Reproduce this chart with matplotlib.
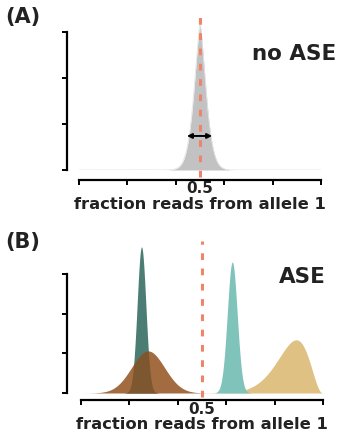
import numpy as np
import matplotlib
matplotlib.use('Agg')
import matplotlib.pyplot as plt

plt.rcParams['font.family'] = 'DejaVu Sans'
plt.rcParams['font.weight'] = 'bold'

# panel A: one narrow peak at 0.5 (center, width, exponent, height)
a_center = 0.5
a_width = 0.035
a_power = 1.48
a_height = 3.17
a_arrow = [0.446, 0.55, 0.74]   # x from, x to, y

# panel B: gaussian peaks (center, sd, height)
b_names = ['green', 'brown', 'teal']
b_centers = [0.25, 0.277, 0.625]
b_sds = [0.018, 0.068, 0.0205]
b_heights = [3.68, 1.06, 3.30]
b_colors = ['#4b7d74', '#a36b40', '#80c3bb']
overlap_color = '#7c5730'
# skewed peak (beta shape params, height)
tan_ab = [21, 3.5]
tan_height = 1.34
tan_color = '#dfc183'

xticks = [0, 0.2, 0.4, 0.6, 0.8, 1.0]
yticks = [0, 1, 2, 3]
red = '#f0846a'
dash = (0, (2.2, 2.8))

x = np.linspace(0, 1, 1001)

fig = plt.figure(figsize=(3.41, 4.31), dpi=100)
axA = fig.add_axes([79/341, 1-171/431, 242/341, 156/431])
axB = fig.add_axes([81/341, 1-394/431, 242/341, 156/431])


def style(ax, ytop, left_out, bottom_out):
    ax.set_xlim(0, 1)
    ax.set_ylim(0, ytop)
    for s in ['top', 'right']:
        ax.spines[s].set_visible(False)
    ax.spines['left'].set_position(('outward', left_out))
    ax.spines['bottom'].set_position(('outward', bottom_out))
    ax.spines['left'].set_bounds(0, 3)
    ax.spines['bottom'].set_bounds(0, 1)
    ax.spines['left'].set_linewidth(1.6)
    ax.spines['bottom'].set_linewidth(1.6)
    ax.set_yticks(yticks)
    ax.set_yticklabels([])
    ax.set_xticks(xticks)
    ax.set_xticklabels([])
    ax.set_xticks([0.5], labels=['0.5'], minor=True)
    ax.tick_params(axis='both', which='major', length=3.5, width=1.4, direction='out')
    ax.tick_params(axis='x', which='minor', length=0, pad=0.5, labelsize=11, labelcolor='#222222')
    ax.set_xlabel('fraction reads from allele 1', fontsize=11.8, fontweight='bold',
                  labelpad=0.5, color='#222222')
    ax.patch.set_alpha(0)


# panel A
ya = a_height * np.exp(-(np.abs(x - a_center) / a_width) ** a_power)
axA.fill_between(x, 0, ya, color='#c2c2c2', lw=0)
axA.plot(x, ya, color='#e4e4e4', lw=0.6)
axA.plot([0.5, 0.5], [-0.15, 3.33], color=red, lw=2.2, ls=dash, clip_on=False, zorder=5)
axA.annotate('', xy=(a_arrow[0], a_arrow[2]), xytext=(a_arrow[1], a_arrow[2]),
             arrowprops=dict(arrowstyle='<|-|>', color='black', lw=1.4,
                             mutation_scale=7, shrinkA=0, shrinkB=0), zorder=6)
style(axA, 156/46, 9, 7)
axA.text(1.065, 2.55, 'no ASE', ha='right', va='center', fontsize=15.5, fontweight='bold',
         color='#222222')

# panel B
curves = []
for c, s, h in zip(b_centers, b_sds, b_heights):
    curves.append(h * np.exp(-0.5 * ((x - c) / s) ** 2))
a, b = tan_ab
tan = x ** (a - 1) * (1 - x) ** (b - 1)
tan = tan_height * tan / tan.max()

axB.plot([0, 1], [0, 0], color='#e8dcc0', lw=0.8, zorder=1)
axB.fill_between(x, 0, tan, color=tan_color, lw=0)
axB.fill_between(x, 0, curves[2], color=b_colors[2], lw=0)
axB.fill_between(x, 0, curves[0], color=b_colors[0], lw=0)
axB.fill_between(x, 0, curves[1], color=b_colors[1], lw=0)
axB.fill_between(x, 0, np.minimum(curves[0], curves[1]), color=overlap_color, lw=0)
axB.plot([0.5, 0.5], [-0.1, 3.83], color=red, lw=2.2, ls=dash, clip_on=False, zorder=5)
style(axB, 156/39.7, 10, 5)
axB.text(1.01, 2.95, 'ASE', ha='right', va='center', fontsize=15.5, fontweight='bold',
         color='#222222')

fig.text(5/341, 1-17/431, '(A)', fontsize=15, fontweight='bold', va='center', ha='left', color='#222222')
fig.text(5/341, 1-242/431, '(B)', fontsize=15, fontweight='bold', va='center', ha='left', color='#222222')

fig.savefig('out.png', dpi=100)
